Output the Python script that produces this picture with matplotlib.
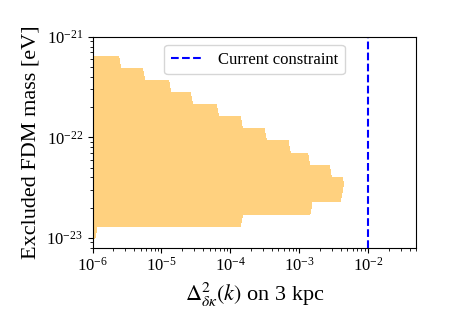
import numpy as np
import matplotlib
matplotlib.use("Agg")
import matplotlib.pyplot as plt

plt.rcParams['font.family'] = 'serif'
plt.rcParams['font.serif'] = ['Liberation Serif', 'DejaVu Serif']
plt.rcParams['mathtext.fontset'] = 'stix'

# FDM mass grid (eV), one row per mass bin
fdm_mass = [5.5e-22, 4.17e-22, 3.16e-22, 2.4e-22, 1.82e-22, 1.38e-22, 1.05e-22,
            7.9e-23, 6.0e-23, 4.5e-23, 3.4e-23, 2.6e-23, 1.95e-23, 1.48e-23, 1.12e-23]
# largest convergence power (on 3 kpc) for which each mass is excluded
max_power = [2.4e-6, 5.5e-6, 1.3e-5, 2.7e-5, 6.5e-5, 1.4e-4, 3.25e-4,
             7.1e-4, 1.4e-3, 2.8e-3, 4.3e-3, 4.1e-3, 1.5e-3, 1.4e-4, 1.13e-6]
current_constraint = 1e-2

x_major = [1e-6, 1e-5, 1e-4, 1e-3, 1e-2]
y_major = [1e-23, 1e-22, 1e-21]
xlim = (1e-6, 5e-2)
ylim = (8e-24, 1e-21)

fig = plt.figure(figsize=(4.63, 3.09), dpi=100)
ax = fig.add_axes([0.2, 0.199, 0.699, 0.682])

# build exclusion grid
masses = np.array(fdm_mass)
ratio = masses[0] / masses[1]
mass_rows = np.concatenate([[masses[0] * ratio], masses, [masses[-1] / ratio]])
thr = np.concatenate([[0.0], np.array(max_power), [0.0]])
pgrid = np.logspace(np.log10(xlim[0]), np.log10(xlim[1]), 150)
Z = (pgrid[None, :] <= thr[:, None]).astype(float)

ax.contourf(pgrid, mass_rows, Z, levels=[0.5, 1.5], colors=['orange'], alpha=0.5)
ax.axvline(current_constraint, color='blue', linestyle='--', linewidth=1.5,
           label='Current constraint')

ax.set_xscale('log')
ax.set_yscale('log')
ax.set_xticks(x_major)
ax.set_yticks(y_major)
ax.set_xlim(*xlim)
ax.set_ylim(*ylim)
ax.tick_params(labelsize=12)
ax.set_xlabel(r'$\Delta^2_{\delta\kappa}(k)$ on 3 kpc', fontsize=16)
ax.set_ylabel('Excluded FDM mass [eV]', fontsize=16)
ax.legend(loc='upper center', fontsize=12)

fig.savefig('out.png', dpi=100)
